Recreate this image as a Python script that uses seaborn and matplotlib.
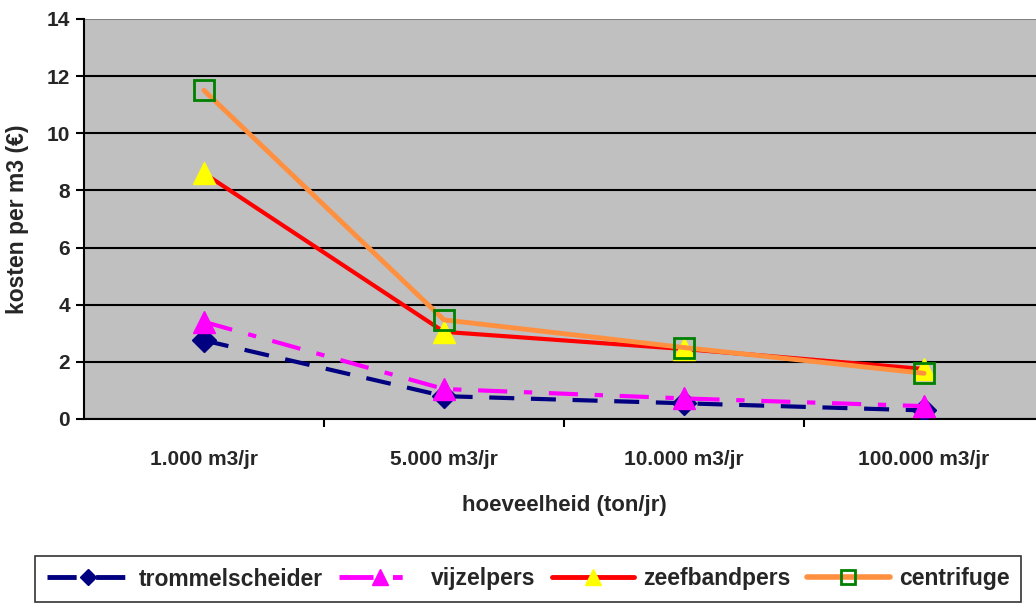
import matplotlib
matplotlib.use("Agg")
import matplotlib.pyplot as plt
import seaborn as sns
import pandas as pd
from matplotlib.ticker import FixedLocator, NullFormatter

categories = ["1.000 m3/jr", "5.000 m3/jr", "10.000 m3/jr", "100.000 m3/jr"]
trommelscheider = [2.75, 0.8, 0.55, 0.3]
vijzelpers = [3.4, 1.05, 0.72, 0.45]
zeefbandpers = [8.6, 3.05, 2.45, 1.75]
centrifuge = [11.5, 3.47, 2.5, 1.6]
series_names = ["trommelscheider", "vijzelpers", "zeefbandpers", "centrifuge"]
yticks = [0, 2, 4, 6, 8, 10, 12, 14]

sns.set_theme(style="white")
plt.rcParams['font.family'] = ['Liberation Sans', 'DejaVu Sans']
plt.rcParams['font.weight'] = 'bold'

rows = []
for name, vals in zip(series_names, [trommelscheider, vijzelpers, zeefbandpers, centrifuge]):
    for i, v in enumerate(vals):
        rows.append({"serie": name, "pos": i, "kosten": v})
df = pd.DataFrame(rows)

fig = plt.figure(figsize=(10.36, 6.04), dpi=100)
ax = fig.add_axes([84/1036, 1 - 419/604, 960/1036, 400/604])
ax.set_facecolor("#C0C0C0")

styles = {
    "trommelscheider": dict(color="#000080", linestyle=(0, (6, 4)), marker="D", markersize=12,
                            markerfacecolor="#000080", markeredgecolor="#000080", lw=3),
    "vijzelpers": dict(color="#FF00FF", linestyle=(0, (7, 4, 2, 4)), marker="^", markersize=16,
                       markerfacecolor="#FF00FF", markeredgecolor="#FF00FF", lw=3),
    "zeefbandpers": dict(color="#FF0000", linestyle="-", marker="^", markersize=16,
                         markerfacecolor="#FFFF00", markeredgecolor="#FFFF00", lw=3),
    "centrifuge": dict(color="#FF9040", linestyle="-", marker="s", markersize=14,
                       markerfacecolor="none", markeredgecolor="#008000", markeredgewidth=2, lw=3.5),
}
for name in series_names:
    sub = df[df["serie"] == name]
    st = styles[name]
    sns.lineplot(data=sub, x="pos", y="kosten", ax=ax, color=st["color"], linestyle=st["linestyle"],
                 lw=st["lw"], marker=st["marker"], markersize=st["markersize"],
                 markerfacecolor=st["markerfacecolor"], markeredgecolor=st["markeredgecolor"],
                 markeredgewidth=st.get("markeredgewidth", 1), legend=False, zorder=3)

ax.set_xlim(-0.5, 3.5)
ax.set_ylim(0, 14)
ax.set_yticks(yticks)
ax.set_yticklabels([str(t) for t in yticks], fontsize=15, fontweight="bold")
ax.yaxis.grid(True, color="black", lw=1.5)
ax.set_axisbelow(True)
gl = ax.yaxis.get_gridlines()
gl[-1].set_color("#808080")
ax.set_xticks(range(len(categories)))
ax.set_xticklabels(categories, fontsize=15, fontweight="bold")
ax.tick_params(axis="x", which="major", length=0, pad=22)
ax.xaxis.set_minor_locator(FixedLocator([0.5, 1.5, 2.5]))
ax.xaxis.set_minor_formatter(NullFormatter())
ax.tick_params(axis="x", which="minor", length=6, width=1.5, color="black", direction="out", bottom=True)
ax.tick_params(axis="y", length=6, width=1.5, color="black", direction="out", left=True, pad=4)
for s in ["top", "right"]:
    ax.spines[s].set_visible(False)
for s in ["left", "bottom"]:
    ax.spines[s].set_color("black")
    ax.spines[s].set_linewidth(1.5)

ax.set_xlabel("hoeveelheid (ton/jr)", fontsize=16, fontweight="bold", labelpad=19)
ax.set_ylabel("kosten per m3 (€)", fontsize=16.5, fontweight="bold", labelpad=13)

leg_handles = []
for name in series_names:
    st = styles[name]
    h = matplotlib.lines.Line2D([], [], color=st["color"], linestyle=st["linestyle"], lw=st["lw"] + 0.5,
                                marker=st["marker"], markersize=st["markersize"] * 0.7,
                                markerfacecolor=st["markerfacecolor"], markeredgecolor=st["markeredgecolor"],
                                markeredgewidth=st.get("markeredgewidth", 1))
    leg_handles.append(h)

leg = fig.legend(leg_handles, series_names, loc="center",
                 bbox_to_anchor=(528/1036, 1 - 579/604),
                 ncol=4, frameon=True, fancybox=False, edgecolor="black",
                 prop={"size": 16.5, "weight": "bold"}, handlelength=3.6, handletextpad=0.4,
                 borderaxespad=0, columnspacing=0.72, borderpad=0.5)
leg.get_frame().set_linewidth(1.2)

fig.savefig("out.png", dpi=100)
